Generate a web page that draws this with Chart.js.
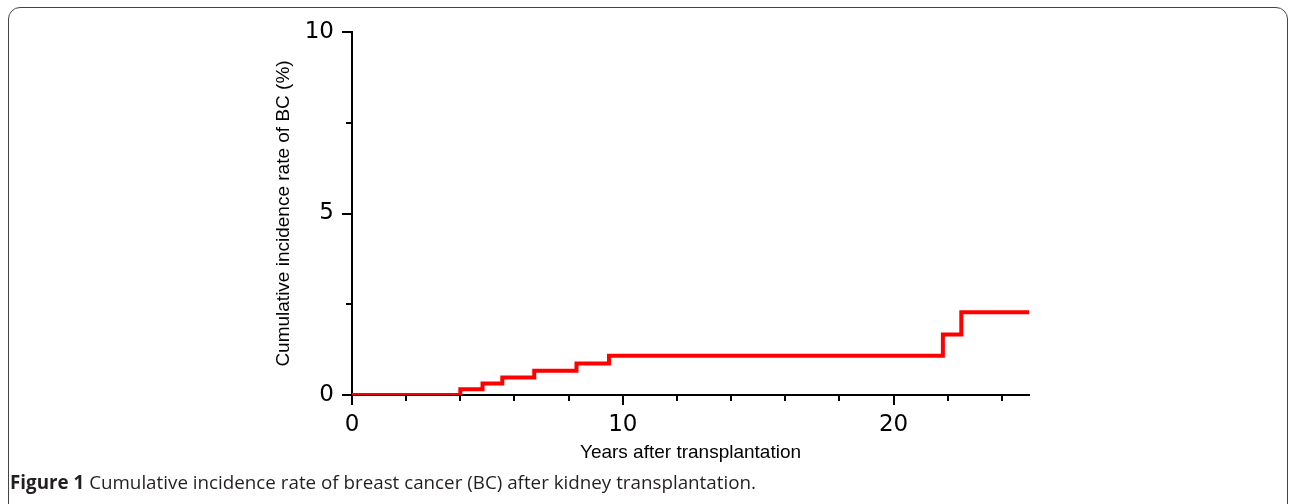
<!DOCTYPE html>
<html>
<head>
<meta charset="utf-8">
<script src="https://cdn.jsdelivr.net/npm/chart.js@4/dist/chart.umd.min.js"></script>
<style>
  html, body { margin: 0; padding: 0; background: #fff; }
  body { width: 1292px; height: 504px; position: relative; overflow: hidden; }
  #frame {
    position: absolute; left: 8px; top: 7px; width: 1280px; height: 520px;
    border: 1.5px solid #444; border-radius: 12px; box-sizing: border-box;
  }
  #chart { position: absolute; left: 0; top: 0; }
  #caption {
    position: absolute; left: 10px; top: 469px;
    font-family: "Open Sans", sans-serif; font-size: 18.8px; color: #231f20;
    white-space: nowrap;
  }
  #caption b { font-weight: 700; }
</style>
</head>
<body>
<div id="frame"></div>
<canvas id="chart" width="1292" height="504"></canvas>
<div id="caption"><b>Figure 1</b> Cumulative incidence rate of breast cancer (BC) after kidney transplantation.</div>
<script>
// step times (years) and cumulative incidence (%)
const years = [0, 4.0, 4.82, 5.55, 6.73, 8.29, 9.49, 21.82, 22.5, 25];
const incidence = [0, 0.16, 0.32, 0.48, 0.67, 0.87, 1.08, 1.67, 2.28, 2.28];
const xMajorTicks = [0, 10, 20];
const xMinorTicks = [2, 4, 6, 8, 12, 14, 16, 18, 22, 24];
const yMajorTicks = [0, 5, 10];
const yMinorTicks = [2.5, 7.5];

const points = years.map((x, i) => ({ x: x, y: incidence[i] }));

// short minor tick marks, placed through the chart's own scales
const minorTicks = {
  id: 'minorTicks',
  afterDraw(chart) {
    const ctx = chart.ctx;
    const xs = chart.scales.x, ys = chart.scales.y;
    ctx.save();
    ctx.strokeStyle = '#000';
    ctx.lineWidth = 2;
    ctx.beginPath();
    xMinorTicks.forEach(v => {
      const px = Math.round(xs.getPixelForValue(v));
      ctx.moveTo(px, ys.bottom);
      ctx.lineTo(px, ys.bottom + 6);
    });
    yMinorTicks.forEach(v => {
      const py = Math.round(ys.getPixelForValue(v));
      ctx.moveTo(xs.left, py);
      ctx.lineTo(xs.left - 6, py);
    });
    ctx.stroke();
    ctx.restore();
  }
};

new Chart(document.getElementById('chart'), {
  type: 'line',
  data: {
    datasets: [{
      label: 'Cumulative incidence',
      data: points,
      stepped: true,
      borderColor: '#ff0000',
      borderWidth: 4,
      pointRadius: 0,
      fill: false
    }]
  },
  options: {
    responsive: false,
    devicePixelRatio: 1,
    animation: false,
    layout: { padding: { left: 262, right: 263, top: 32, bottom: 39 } },
    plugins: { legend: { display: false }, tooltip: { enabled: false } },
    scales: {
      x: {
        type: 'linear',
        min: 0,
        max: 25,
        afterBuildTicks: s => { s.ticks = xMajorTicks.map(v => ({ value: v })); },
        afterFit: s => { s.height = 70; },
        grid: { drawOnChartArea: false, tickLength: 10, color: '#000', lineWidth: 2 },
        border: { color: '#000', width: 2 },
        ticks: {
          padding: 6,
          color: '#000',
          maxRotation: 0,
          font: { family: 'DejaVu Sans', size: 23 }
        },
        title: {
          display: true,
          text: 'Years after transplantation',
          color: '#000',
          font: { family: 'Liberation Sans', size: 19 },
          padding: { top: 0, bottom: 1 }
        }
      },
      y: {
        min: 0,
        max: 10,
        afterBuildTicks: s => { s.ticks = yMajorTicks.map(v => ({ value: v })); },
        afterFit: s => { s.width = 90; },
        grid: { drawOnChartArea: false, tickLength: 10, color: '#000', lineWidth: 2 },
        border: { color: '#000', width: 2 },
        ticks: {
          padding: 8,
          color: '#000',
          font: { family: 'DejaVu Sans', size: 23 }
        },
        title: {
          display: true,
          text: 'Cumulative incidence rate of BC (%)',
          color: '#000',
          font: { family: 'Liberation Sans', size: 19 },
          padding: { top: 10, bottom: 0 }
        }
      }
    }
  },
  plugins: [minorTicks]
});
</script>
</body>
</html>
